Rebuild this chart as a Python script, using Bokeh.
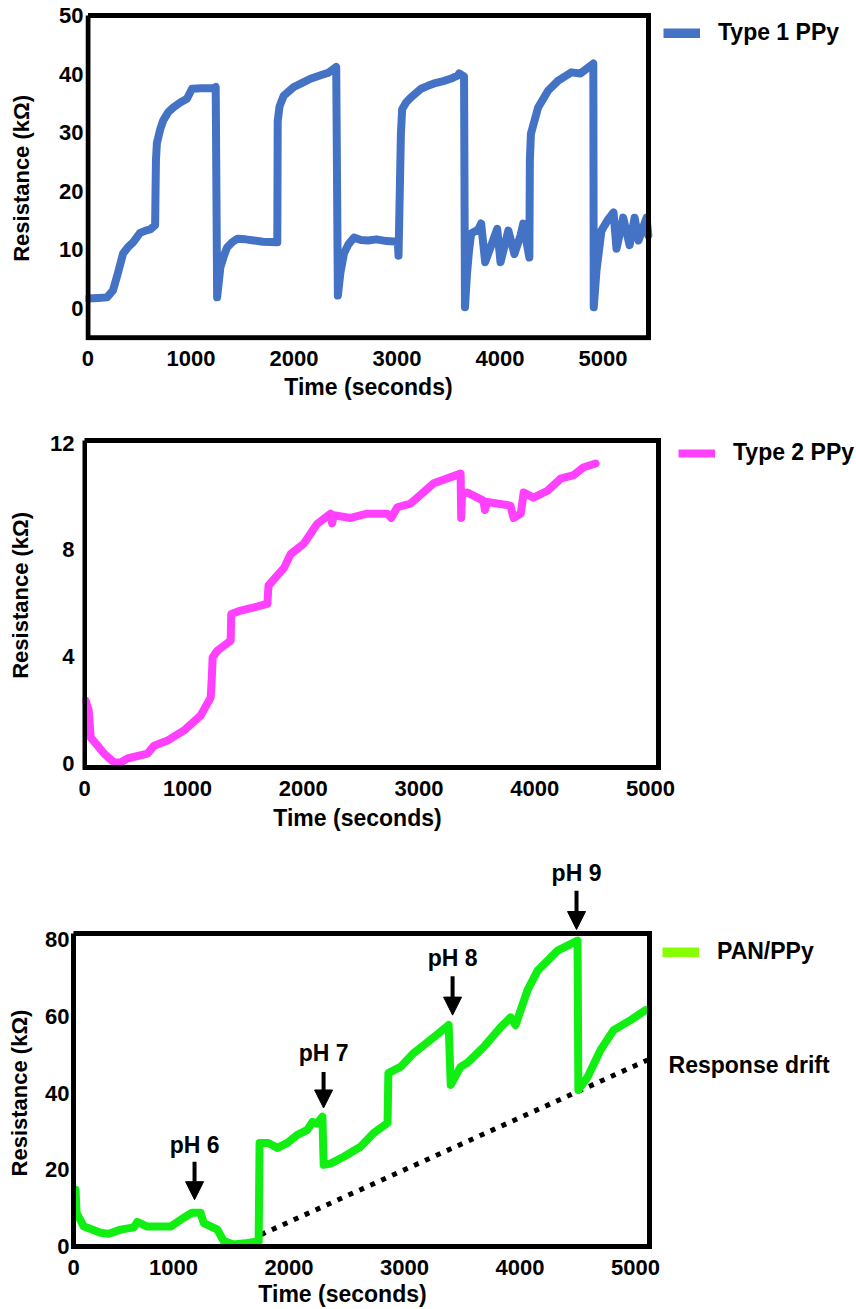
from bokeh.plotting import figure
from bokeh.models import (Range1d, FixedTicker, Legend, LegendItem, Label, Arrow, NormalHead,
                          LinearAxis)
from bokeh.embed import file_html
from bokeh.resources import INLINE

# ---------------- data ----------------
# Panel 1: Type 1 PPy
t1 = [0, 100, 185, 243, 290, 341, 390, 438, 506, 560, 604, 652, 656, 660, 669, 700, 731, 780, 828, 900, 961,
      1010, 1100, 1220, 1240, 1254, 1285, 1320, 1350, 1400, 1450, 1530, 1610, 1700, 1838, 1842, 1860, 1900, 1998,
      2080, 2160, 2258, 2330, 2387, 2410, 2426, 2450, 2485, 2530, 2583, 2650, 2720, 2800, 2900, 3008, 3015, 3038,
      3050, 3090, 3135, 3233, 3300, 3360, 3450, 3520, 3593, 3603, 3651, 3660, 3680, 3700, 3720, 3790, 3817, 3856,
      3930, 3973, 4005, 4060, 4081, 4140, 4200, 4226, 4285, 4290, 4300, 4370, 4468, 4565, 4693, 4780, 4906, 4910,
      4937, 4985, 5050, 5102, 5131, 5196, 5258, 5307, 5345, 5423, 5440]
r1 = [1.7, 1.8, 1.9, 3.1, 6.0, 9.4, 10.5, 11.3, 12.9, 13.3, 13.5, 14.2, 20.0, 25.3, 28.2, 30.5, 32.1, 33.5, 34.3, 35.2, 35.8,
      37.5, 37.6, 37.6, 37.8, 1.9, 7.0, 9.0, 10.4, 11.3, 11.9, 11.8, 11.6, 11.4, 11.3, 32.0, 34.5, 36.3, 37.8,
      38.5, 39.2, 39.8, 40.2, 40.9, 41.2, 2.2, 6.0, 9.4, 11.0, 12.1, 11.7, 11.6, 11.8, 11.5, 11.4, 9.0, 29.8,
      34.0, 35.2, 36.0, 37.5, 38.0, 38.4, 38.8, 39.2, 39.8, 40.1, 39.6, 0.2, 6.0, 10.0, 12.8, 13.5, 14.5, 7.9,
      11.5, 13.6, 7.9, 11.8, 13.3, 9.3, 12.5, 14.5, 8.7, 25.3, 29.8, 34.3, 37.2, 38.9, 40.3, 40.1, 41.8, 0.2,
      6.5, 13.3, 15.2, 16.4, 10.2, 15.5, 10.8, 15.5, 11.6, 15.5, 12.5]

# Panel 2: Type 2 PPy
t2 = [119, 146, 164, 223, 280, 366, 424, 481, 654, 712, 827, 970, 1114, 1200, 1210, 1217, 1258, 1373, 1378, 1460,
      1690, 1700, 1834, 1892, 2006, 2121, 2236, 2250, 2265, 2409, 2553, 2727, 2760, 2813, 2928, 3128, 3360, 3365,
      3372, 3419, 3557, 3570, 3590, 3791, 3818, 3880, 3905, 3990, 4111, 4224, 4337, 4424, 4527]
r2 = [2.36, 2.0, 0.97, 0.67, 0.37, 0.04, 0.05, 0.19, 0.37, 0.67, 0.86, 1.24, 1.8, 2.47, 3.2, 3.97, 4.23, 4.6, 5.6, 5.73,
      5.98, 6.67, 7.33, 7.85, 8.24, 8.98, 9.36, 9.0, 9.3, 9.2, 9.36, 9.36, 9.2, 9.6, 9.74, 10.5, 10.86, 9.2,
      10.1, 10.15, 9.85, 9.5, 9.8, 9.66, 9.2, 9.36, 10.15, 9.96, 10.22, 10.67, 10.8, 11.1, 11.24]

# Panel 3: PAN/PPy
t3 = [152, 160, 221, 368, 440, 541, 656, 686, 772, 974, 1088, 1160, 1234, 1262, 1380, 1434, 1521, 1640, 1737, 1745,
      1820, 1900, 1986, 2072, 2159, 2203, 2240, 2289, 2300, 2359, 2474, 2619, 2733, 2853, 2860, 2965, 3079, 3252,
      3382, 3400, 3485, 3542, 3686, 3831, 3918, 3961, 4065, 4152, 4325, 4498, 4505, 4585, 4697, 4810, 4957, 5087]
r3 = [14.8, 8.8, 5.3, 3.6, 3.3, 4.4, 5.0, 6.4, 5.2, 5.2, 7.5, 8.8, 8.8, 6.1, 4.4, 1.4, 0.5, 0.9, 1.3, 27.0,
      27.0, 25.7, 27.0, 29.1, 30.4, 32.5, 32.0, 33.8, 21.3, 21.6, 23.4, 26.0, 29.6, 32.2, 45.2, 46.8, 50.4, 54.5,
      57.7, 42.1, 46.8, 47.8, 52.0, 57.1, 59.7, 57.7, 66.8, 71.9, 77.1, 79.7, 40.8, 44.2, 51.2, 56.4, 59.0, 61.6]

drift_t = [1757, 5104]
drift_r = [3.1, 48.6]

ph_labels = ["pH 6", "pH 7", "pH 8", "pH 9"]
ph_t = [1182, 2299, 3416, 4489]
ph_text_r = [26.5, 50.4, 75.1, 97.4]
ph_arrow_top = [22.1, 45.5, 70.4, 92.7]
ph_arrow_tip = [12.2, 36.1, 60.3, 82.6]

y1_ticks = [0, 10, 20, 30, 40, 50]
y2_ticks = [0, 4, 8, 12]
y3_ticks = [0, 20, 40, 60, 80]
x1_ticks = [0, 1000, 2000, 3000, 4000, 5000]

# plot boxes (data extents of each framed panel)
box1_x = [0, 5442]
box1_y = [-5, 50]
box2_x = [110, 5070]
box2_y = [-0.15, 12.1]
box3_x = [134, 5121]
box3_y = [0, 81.6]

FONT = "Liberation Sans"
BLUE = "#4472C4"
PINK = "#FF40FF"
GREEN = "#11EE11"
LIME = "#88FF00"


def style_axis(ax, size):
    ax.axis_line_color = None
    ax.major_tick_line_color = None
    ax.minor_tick_line_color = None
    ax.major_tick_out = 0
    ax.major_tick_in = 0
    ax.minor_tick_out = 0
    ax.minor_tick_in = 0
    ax.major_label_text_font = FONT
    ax.major_label_text_font_style = "bold"
    ax.major_label_text_font_size = size
    ax.major_label_text_color = "black"


def make_fig(height, left, bottom, xr, yr, xticks, overrides, yticks,
             ylab_stand, xlab_stand, xlabel_pos, ylabel_pos, xlabel_stand, ylabel_stand):
    p = figure(width=856, height=height, output_backend="svg", toolbar_location=None,
               x_range=Range1d(*xr), y_range=Range1d(*yr),
               min_border_left=left, min_border_right=0,
               min_border_top=0, min_border_bottom=bottom)
    p.outline_line_color = None
    p.grid.visible = False
    p.background_fill_color = "white"
    p.border_fill_color = "white"
    style_axis(p.xaxis[0], "22px")
    style_axis(p.yaxis[0], "22px")
    p.xaxis[0].ticker = FixedTicker(ticks=xticks)
    p.yaxis[0].ticker = FixedTicker(ticks=yticks)
    if overrides:
        p.xaxis[0].major_label_overrides = overrides
    p.yaxis[0].major_label_standoff = ylab_stand
    p.xaxis[0].major_label_standoff = xlab_stand
    # axis titles, placed at their positions in the original
    xt = LinearAxis(ticker=FixedTicker(ticks=[xlabel_pos]),
                    major_label_overrides={xlabel_pos: "Time (seconds)"},
                    major_label_standoff=xlabel_stand)
    style_axis(xt, "23px")
    p.add_layout(xt, "below")
    yt = LinearAxis(ticker=FixedTicker(ticks=[ylabel_pos]),
                    major_label_overrides={ylabel_pos: "Resistance (kΩ)"},
                    major_label_orientation="vertical",
                    major_label_standoff=ylabel_stand)
    style_axis(yt, "22px")
    p.add_layout(yt, "left")
    return p


def add_box(p, bx, by):
    p.line([bx[0], bx[1], bx[1], bx[0], bx[0]], [by[1], by[1], by[0], by[0], by[1]],
           line_color="black", line_width=5, line_join="miter")


def add_legend(p, label, color, thick, x, y, off_x):
    # invisible (off-frame) line used only as the legend swatch
    dummy = p.line(x=[off_x, off_x], y=[0, 1], line_color=color, line_width=thick, line_cap="butt")
    lg = Legend(items=[LegendItem(label=label, renderers=[dummy])], location=(x, y),
                border_line_color=None, background_fill_alpha=0, padding=0, margin=0,
                glyph_width=37, glyph_height=10, label_height=25, label_standoff=18,
                label_text_font=FONT, label_text_font_style="bold",
                label_text_font_size="23px", label_text_color="black")
    p.add_layout(lg)


# ---------------- panel 1 ----------------
p1 = make_fig(420, 85, 80, (-24, 7461), (-5.46, 52.56), x1_ticks, None, y1_ticks,
              2, 10, 2723, 22.2, 5, 22)
p1.line(t1, r1, line_color=BLUE, line_width=8, line_join="round", line_cap="round")
add_box(p1, box1_x, box1_y)
add_legend(p1, "Type 1 PPy", BLUE, 10, 578, 294, -9000)

# ---------------- panel 2 ----------------
x2_ticks = [110, 1000, 2000, 3000, 4000, 5000]
p2 = make_fig(425, 82, 75, (92.7, 6781), (-0.26, 12.85), x2_ticks, {110: "0"}, y2_ticks,
              8, 10, 2469, 6.3, 6, 14)
p2.line(t2, r2, line_color=PINK, line_width=8, line_join="round", line_cap="round")
add_box(p2, box2_x, box2_y)
add_legend(p2, "Type 2 PPy", PINK, 8, 596, 304, -9000)

# ---------------- panel 3 ----------------
x3_ticks = [134, 1000, 2000, 3000, 4000, 5000]
p3 = make_fig(464, 70, 59, (108, 6913), (-0.78, 104.5), x3_ticks, {134: "0"}, y3_ticks,
              1, 10, 2463, 40, 3, 10)
p3.line(drift_t, drift_r, line_color="black", line_width=5, line_dash="5 7", line_cap="butt")
p3.line(t3, r3, line_color=GREEN, line_width=8, line_join="round", line_cap="round")
add_box(p3, box3_x, box3_y)
add_legend(p3, "PAN/PPy", LIME, 10, 592, 284, -9000)

for lab, tx, ty, a0, a1 in zip(ph_labels, ph_t, ph_text_r, ph_arrow_top, ph_arrow_tip):
    p3.add_layout(Label(x=tx, y=ty, text=lab, text_align="center", text_baseline="middle",
                        text_font=FONT, text_font_style="bold", text_font_size="23px",
                        text_color="black"))
    p3.add_layout(Arrow(x_start=tx, y_start=a0, x_end=tx, y_end=a1, line_width=4, line_color="black",
                        end=NormalHead(size=18, fill_color="black", line_color="black", line_width=1)))

p3.add_layout(Label(x=5286, y=47.3, text="Response drift", text_align="left", text_baseline="middle",
                    text_font=FONT, text_font_style="bold", text_font_size="23px", text_color="black"))

open("out.html", "w").write(file_html([p1, p2, p3], INLINE))
